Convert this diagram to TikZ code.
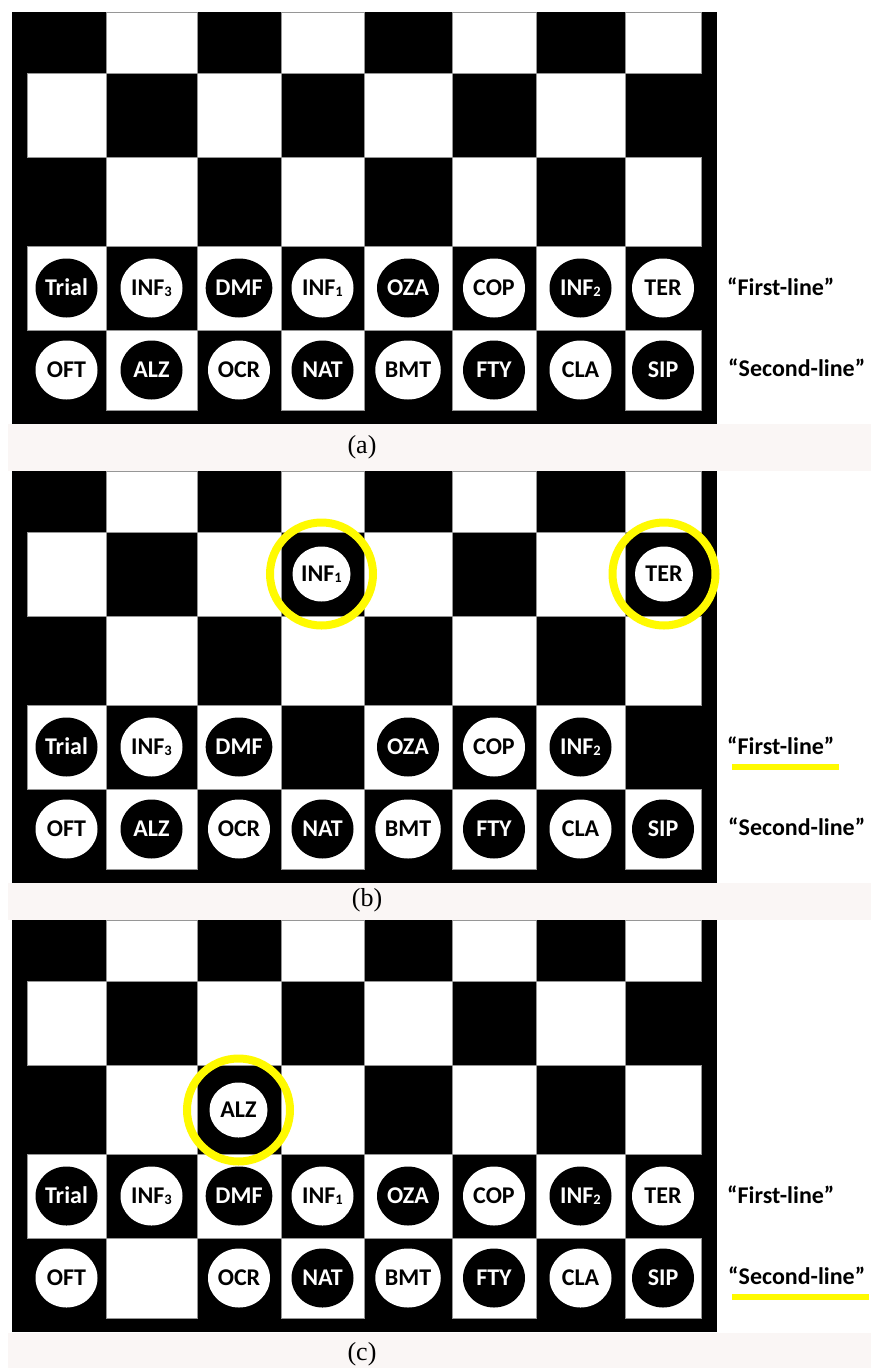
\documentclass[tikz,border=0pt]{standalone}
\usepackage{fontspec}
\setmainfont{Liberation Serif}
\newfontfamily\carl{Carlito}
\usetikzlibrary{shapes.geometric}
\definecolor{capbg}{RGB}{250,246,245}
\definecolor{ylw}{RGB}{255,250,0}
\definecolor{sqline}{RGB}{150,150,150}
\newcommand\subd[1]{{\fontsize{14.5}{14.5}\selectfont\raisebox{-1pt}{#1}}}
\tikzset{
  sq/.style={fill=white, draw=sqline, line width=0.8pt},
  diskbase/.style={ellipse, inner sep=0pt, minimum width=62pt, minimum height=59pt,
    text height=15.4pt, text depth=0pt, font=\carl\bfseries\fontsize{24}{24}\selectfont},
  bdisk/.style={diskbase, fill=black, text=white},
  wdisk/.style={diskbase, fill=white, text=black},
  mdisk/.style={diskbase, fill=white, text=black, minimum width=58pt, minimum height=55pt},
  ring/.style={circle, draw=ylw, line width=8pt, minimum size=103pt, inner sep=0pt},
  lbl/.style={anchor=west, inner sep=0pt, text height=15.5pt, text depth=0pt,
    font=\carl\bfseries\fontsize{24}{24}\selectfont},
  captxt/.style={inner sep=0pt, font=\fontsize{26}{26}\selectfont},
  uline/.style={fill=ylw}
}
\newcommand\drawboard{%
  \fill[black] (12,12) rectangle (717,424);
  \foreach \ya/\yb/\r in {12/73.5/1,73.5/157/2,157/246/3,246/330/4,330/410/5}{%
    \foreach \xa/\xb/\c in {27/106/1,106/197/2,197/281/3,281/364/4,364/452/5,452/536/6,536/625/7,625/701/8}{%
      \pgfmathtruncatemacro\pp{mod(\r+\c,2)}%
      \ifnum\pp=1 \filldraw[sq] (\xa,\ya) rectangle (\xb,\yb);\fi
    }}}
\begin{document}
\begin{tikzpicture}[x=1pt,y=-1pt]
\useasboundingbox (0,0) rectangle (871,1368);
\fill[white] (0,0) rectangle (871,1368);
% caption bands
\fill[capbg] (8,424) rectangle (871,471);
\fill[capbg] (8,883) rectangle (871,920);
\fill[capbg] (8,1333) rectangle (871,1368);

% ---------- panel (a) ----------
\begin{scope}
\drawboard
\foreach \n/\s/\x/\t in {trial/bdisk/66.5/Trial, inf3/wdisk/151.5/INF\subd{3}, dmf/bdisk/239/DMF, inf1/wdisk/322.5/INF\subd{1}, oza/bdisk/408/OZA, cop/wdisk/494/COP, inf2/bdisk/580.5/INF\subd{2}, ter/wdisk/663/TER}
  \node[\s] (a-\n) at (\x,288) {\t};
\foreach \n/\s/\x/\t in {oft/wdisk/66.5/OFT, alz/bdisk/151.5/ALZ, ocr/wdisk/239/OCR, nat/bdisk/322.5/NAT, bmt/wdisk/408/BMT, fty/bdisk/494/FTY, cla/wdisk/580.5/CLA, sip/bdisk/663/SIP}
  \node[\s] (a-\n) at (\x,370) {\t};
\node[lbl] (a-first) at (727,288) {“First-line”};
\node[lbl] (a-second) at (728,369) {“Second-line”};
\node[captxt] (a-cap) at (362,447) {(a)};
\end{scope}

% ---------- panel (b) ----------
\begin{scope}[yshift=-459pt]
\drawboard
\foreach \n/\s/\x/\t in {trial/bdisk/66.5/Trial, inf3/wdisk/151.5/INF\subd{3}, dmf/bdisk/239/DMF, oza/bdisk/408/OZA, cop/wdisk/494/COP, inf2/bdisk/580.5/INF\subd{2}}
  \node[\s] (b-\n) at (\x,288) {\t};
\foreach \n/\s/\x/\t in {oft/wdisk/66.5/OFT, alz/bdisk/151.5/ALZ, ocr/wdisk/239/OCR, nat/bdisk/322.5/NAT, bmt/wdisk/408/BMT, fty/bdisk/494/FTY, cla/wdisk/580.5/CLA, sip/bdisk/663/SIP}
  \node[\s] (b-\n) at (\x,370) {\t};
\node[mdisk] (b-inf1) at (321.5,115) {INF\subd{1}};
\node[ring] (b-ring1) at (b-inf1) {};
\node[mdisk] (b-ter) at (664,115) {TER};
\node[ring] (b-ring2) at (b-ter) {};
\node[lbl] (b-first) at (727,288) {“First-line”};
\fill[uline] (732,305) rectangle (839,311);
\node[lbl] (b-second) at (728,369) {“Second-line”};
\node[captxt] (b-cap) at (367,441) {(b)};
\end{scope}

% ---------- panel (c) ----------
\begin{scope}[yshift=-908pt]
\drawboard
\foreach \n/\s/\x/\t in {trial/bdisk/66.5/Trial, inf3/wdisk/151.5/INF\subd{3}, dmf/bdisk/239/DMF, inf1/wdisk/322.5/INF\subd{1}, oza/bdisk/408/OZA, cop/wdisk/494/COP, inf2/bdisk/580.5/INF\subd{2}, ter/wdisk/663/TER}
  \node[\s] (c-\n) at (\x,288) {\t};
\foreach \n/\s/\x/\t in {oft/wdisk/66.5/OFT, ocr/wdisk/239/OCR, nat/bdisk/322.5/NAT, bmt/wdisk/408/BMT, fty/bdisk/494/FTY, cla/wdisk/580.5/CLA, sip/bdisk/663/SIP}
  \node[\s] (c-\n) at (\x,370) {\t};
\node[mdisk] (c-alz) at (238.5,202) {ALZ};
\node[ring] (c-ring) at (c-alz) {};
\node[lbl] (c-first) at (727,288) {“First-line”};
\node[lbl] (c-second) at (728,369) {“Second-line”};
\fill[uline] (732,386) rectangle (869,392);
\node[captxt] (c-cap) at (362,446) {(c)};
\end{scope}
\end{tikzpicture}
\end{document}
